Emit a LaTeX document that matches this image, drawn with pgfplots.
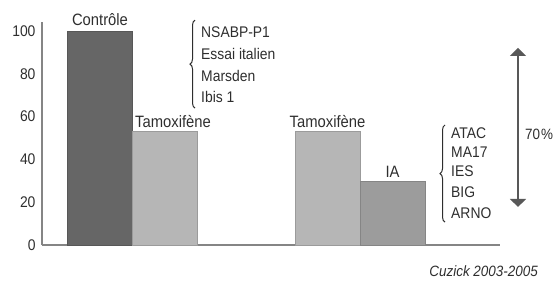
\documentclass[border=0pt]{standalone}
\usepackage{fontspec}
\setmainfont{Liberation Sans}[FakeStretch=0.9]
\usepackage{pgfplots}
\pgfplotsset{compat=1.18}
\usetikzlibrary{decorations.pathreplacing,arrows.meta}
\definecolor{cdark}{HTML}{666666}
\definecolor{clight}{HTML}{B6B6B6}
\definecolor{cmid}{HTML}{9C9C9C}
\definecolor{axisgray}{HTML}{858585}
\definecolor{txt}{HTML}{2E2E2E}
\newcommand{\fs}[1]{\fontsize{#1}{#1}\selectfont}
\begin{document}
\begin{tikzpicture}
\begin{axis}[
  scale only axis, width=458bp, height=223bp,
  xmin=42, xmax=500, ymin=0, ymax=104.2,
  axis lines=left,
  axis line style={-, draw=axisgray, line width=1.5bp},
  xtick=\empty, ytick={0,20,40,60,80,100},
  major tick length=0pt,
  yticklabel style={font=\fs{15.5}, text=txt, xshift=-3bp},
  /pgf/number format/assume math mode=true,
  ybar, bar width=65, bar shift=0pt,
  clip=false,
]
\addplot[fill=cdark, draw=cdark!85!black, line width=0.6bp] coordinates {(100,100)};
\addplot[fill=clight, draw=clight!85!black, line width=0.6bp] coordinates {(165,53) (327.5,53)};
\addplot[fill=cmid, draw=cmid!85!black, line width=0.6bp] coordinates {(392.5,30)};

% bar labels
\node[anchor=base, font=\fs{16.5}, text=txt, inner sep=0pt] at (axis cs:100,102.8) {Contrôle};
\node[anchor=base west, font=\fs{16.5}, text=txt, inner sep=0pt] at (axis cs:135,54.7) {Tamoxifène};
\node[anchor=base, font=\fs{16.5}, text=txt, inner sep=0pt] at (axis cs:327.5,54.7) {Tamoxifène};
\node[anchor=base, font=\fs{16.5}, text=txt, inner sep=0pt] at (axis cs:392.5,31.5) {IA};

% group 1
\draw[txt, line width=1bp, decorate, decoration={brace, amplitude=5bp}] (axis cs:195,64.0) -- (axis cs:195,105.1);
\node[anchor=base west, font=\fs{15.5}, text=txt, inner sep=0pt] at (axis cs:201,97.2) {NSABP-P1};
\node[anchor=base west, font=\fs{15.5}, text=txt, inner sep=0pt] at (axis cs:201,86.9) {Essai italien};
\node[anchor=base west, font=\fs{15.5}, text=txt, inner sep=0pt] at (axis cs:201,76.2) {Marsden};
\node[anchor=base west, font=\fs{15.5}, text=txt, inner sep=0pt] at (axis cs:201,66.4) {Ibis 1};

% group 2
\draw[txt, line width=1bp, decorate, decoration={brace, amplitude=5bp}] (axis cs:445,10.7) -- (axis cs:445,56.1);
\node[anchor=base west, font=\fs{15.5}, text=txt, inner sep=0pt] at (axis cs:451,50.0) {ATAC};
\node[anchor=base west, font=\fs{15.5}, text=txt, inner sep=0pt] at (axis cs:451,40.7) {MA17};
\node[anchor=base west, font=\fs{15.5}, text=txt, inner sep=0pt] at (axis cs:451,31.8) {IES};
\node[anchor=base west, font=\fs{15.5}, text=txt, inner sep=0pt] at (axis cs:451,22.4) {BIG};
\node[anchor=base west, font=\fs{15.5}, text=txt, inner sep=0pt] at (axis cs:451,12.6) {ARNO};

% arrow
\draw[txt!80, line width=1.2bp, {Triangle[width=16bp,length=8bp]}-{Triangle[width=16bp,length=8bp]}] (axis cs:518,92.1) -- (axis cs:518,17.8);
\node[anchor=base west, font=\fs{15}, text=txt, inner sep=0pt] at (axis cs:525,49.1) {70\kern1bp\%};

% source
\node[anchor=base east, font=\fs{15}\itshape, text=txt, inner sep=0pt] at (axis cs:538,-14.5) {Cuzick 2003-2005};

% bounding box
\path (axis cs:0,114.5) rectangle (axis cs:560,-18.2);
\end{axis}
\end{tikzpicture}
\end{document}
